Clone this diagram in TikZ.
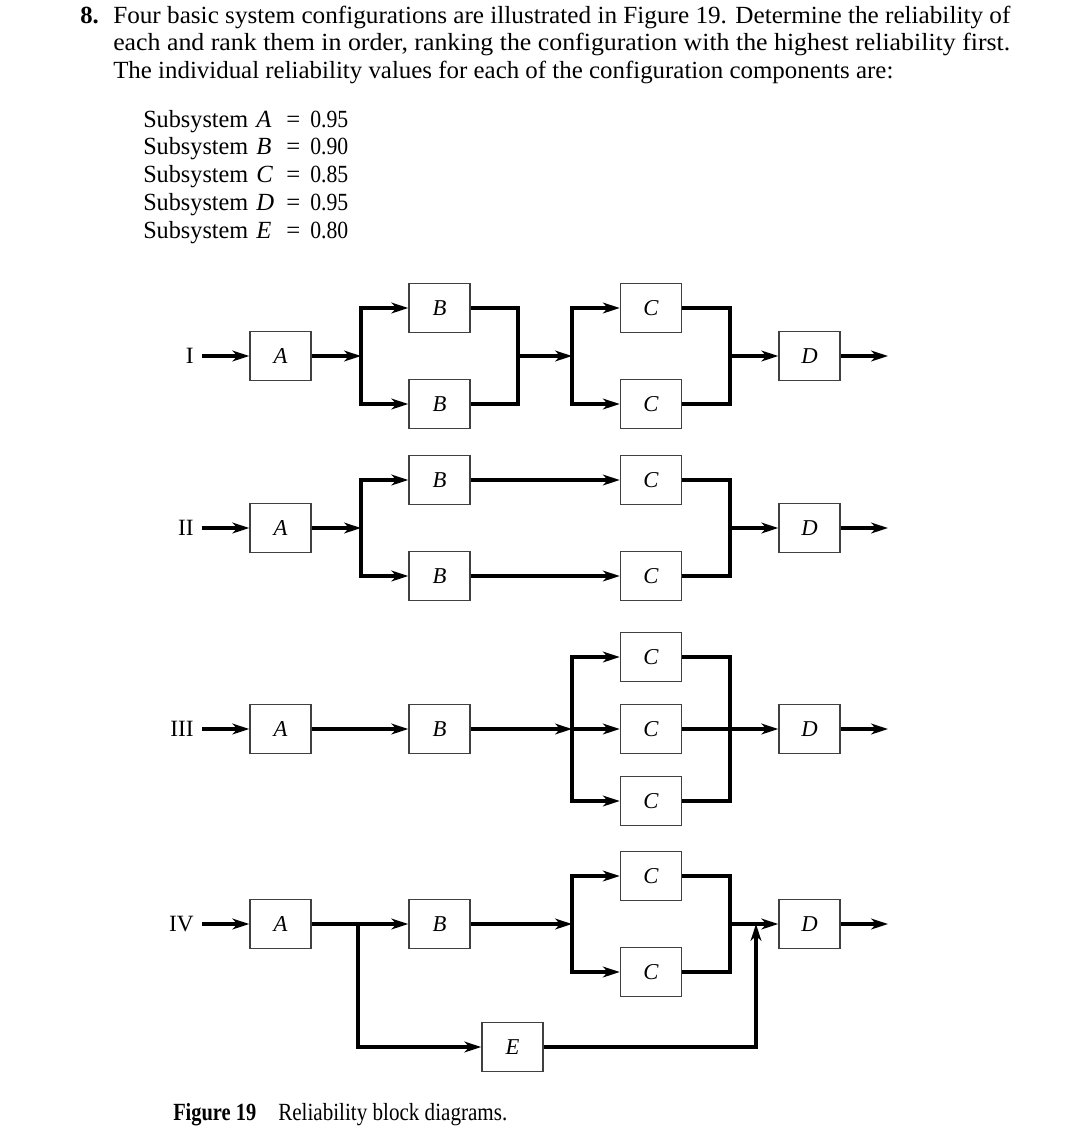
\documentclass[tikz,border=0pt]{standalone}
\usepackage{fontspec}
\setmainfont{Liberation Serif}
\usepackage{graphicx}
\usetikzlibrary{arrows.meta}
\tikzset{
  txt/.style={inner sep=0pt, anchor=base west, font=\fontsize{18.5}{21}\selectfont},
  blk/.style={draw=black!75, line width=1.1pt, minimum width=45.75pt, minimum height=36.75pt,
              inner sep=0pt, font=\fontsize{17}{19}\selectfont\itshape},
  rlab/.style={inner sep=0pt, anchor=east, font=\fontsize{17.5}{19}\selectfont},
  conn/.style={line width=2.3pt, line join=miter, black},
  arr/.style={conn, -{Stealth[length=12.5pt,width=8pt,inset=3.5pt]}},
}
\begin{document}
\begin{tikzpicture}[x=0.75pt,y=-0.75pt]
\useasboundingbox (0,0) rectangle (1071,1133);
% ---------- heading text ----------
\node[txt] (num) at (80,23) {\textbf{8.}};
\node[txt] (t1) at (113,23) {\resizebox{672.75pt}{\height}{Four basic system configurations are illustrated in Figure 19. Determine the reliability of}};
\node[txt] (t2) at (113,50.5) {\resizebox{672.75pt}{\height}{each and rank them in order, ranking the configuration with the highest reliability first.}};
\node[txt] (t3) at (113,78) {\resizebox{585pt}{\height}{The individual reliability values for each of the configuration components are:}};
% ---------- subsystem list ----------
\foreach \i/\L/\v in {0/A/0.95,1/B/0.90,2/C/0.85,3/D/0.95,4/E/0.80}{
  \node[txt] (ss\i) at (143,127+27.75*\i) {\resizebox{78.75pt}{\height}{Subsystem}};
  \node[txt] (sl\i) at (256,127+27.75*\i) {\textit{\L}};
  \node[txt] (se\i) at (286,127+27.75*\i) {=};
  \node[txt] (sv\i) at (310,127+27.75*\i) {\resizebox{28.5pt}{\height}{\v}};
}
% ================= Configuration I =================
\node[rlab] (L1) at (194,356) {I};
\node[blk] (A1) at (280.5,356) {A};
\node[blk] (B1t) at (439.5,308) {B};
\node[blk] (B1b) at (439.5,404) {B};
\node[blk] (C1t) at (651,308) {C};
\node[blk] (C1b) at (651,404) {C};
\node[blk] (D1) at (809.5,356) {D};
\coordinate (s1) at (361,356);
\coordinate (m1) at (518,356);
\coordinate (c1) at (572,356);
\coordinate (n1) at (730,356);
\coordinate (o1) at (888,356);
\draw[arr, shorten <=6pt] (L1) -- (A1);
\draw[arr] (A1) -- (s1);
\draw[arr] (s1) |- (B1t);
\draw[arr] (s1) |- (B1b);
\draw[conn] (B1t) -| (m1) |- (B1b);
\draw[arr] (m1) -- (c1);
\draw[arr] (c1) |- (C1t);
\draw[arr] (c1) |- (C1b);
\draw[conn] (C1t) -| (n1) |- (C1b);
\draw[arr] (n1) -- (D1);
\draw[arr] (D1) -- (o1);
% ================= Configuration II =================
\node[rlab] (L2) at (194,528) {II};
\node[blk] (A2) at (280.5,528) {A};
\node[blk] (B2t) at (439.5,480) {B};
\node[blk] (B2b) at (439.5,576) {B};
\node[blk] (C2t) at (651,480) {C};
\node[blk] (C2b) at (651,576) {C};
\node[blk] (D2) at (809.5,528) {D};
\coordinate (s2) at (361,528);
\coordinate (n2) at (730,528);
\coordinate (o2) at (888,528);
\draw[arr, shorten <=6pt] (L2) -- (A2);
\draw[arr] (A2) -- (s2);
\draw[arr] (s2) |- (B2t);
\draw[arr] (s2) |- (B2b);
\draw[arr] (B2t) -- (C2t);
\draw[arr] (B2b) -- (C2b);
\draw[conn] (C2t) -| (n2) |- (C2b);
\draw[arr] (n2) -- (D2);
\draw[arr] (D2) -- (o2);
% ================= Configuration III =================
\node[rlab] (L3) at (194,729) {III};
\node[blk] (A3) at (280.5,729) {A};
\node[blk] (B3) at (439.5,729) {B};
\node[blk] (C3t) at (651,657) {C};
\node[blk] (C3m) at (651,729) {C};
\node[blk] (C3b) at (651,801) {C};
\node[blk] (D3) at (809.5,729) {D};
\coordinate (s3) at (572,729);
\coordinate (n3) at (730,729);
\coordinate (o3) at (888,729);
\draw[arr, shorten <=6pt] (L3) -- (A3);
\draw[arr] (A3) -- (B3);
\draw[arr] (B3) -- (s3);
\draw[arr] (s3) |- (C3t);
\draw[arr] (s3) -- (C3m);
\draw[arr] (s3) |- (C3b);
\draw[conn] (C3t) -| (n3) |- (C3b);
\draw[conn] (C3m) -- (n3);
\draw[arr] (n3) -- (D3);
\draw[arr] (D3) -- (o3);
% ================= Configuration IV =================
\node[rlab] (L4) at (194,924) {IV};
\node[blk] (A4) at (280.5,924) {A};
\node[blk] (B4) at (439.5,924) {B};
\node[blk] (C4t) at (651,876) {C};
\node[blk] (C4b) at (651,972) {C};
\node[blk] (D4) at (809.5,924) {D};
\node[blk] (E4) at (512.5,1047) {E};
\coordinate (j4) at (358,924);
\coordinate (s4) at (572,924);
\coordinate (n4) at (730,924);
\coordinate (u4) at (756,924);
\coordinate (o4) at (888,924);
\draw[arr, shorten <=6pt] (L4) -- (A4);
\draw[arr] (A4) -- (B4);
\draw[arr] (j4) |- (E4);
\draw[arr] (B4) -- (s4);
\draw[arr] (s4) |- (C4t);
\draw[arr] (s4) |- (C4b);
\draw[conn] (C4t) -| (n4) |- (C4b);
\draw[arr] (n4) -- (D4);
\draw[arr] (E4) -| (u4);
\draw[arr] (D4) -- (o4);
% ---------- caption ----------
\node[txt] (cap1) at (173,1120) {\resizebox{62.25pt}{\height}{\textbf{Figure 19}}};
\node[txt] (cap2) at (278,1120) {\resizebox{171.75pt}{\height}{Reliability block diagrams.}};
\end{tikzpicture}
\end{document}
